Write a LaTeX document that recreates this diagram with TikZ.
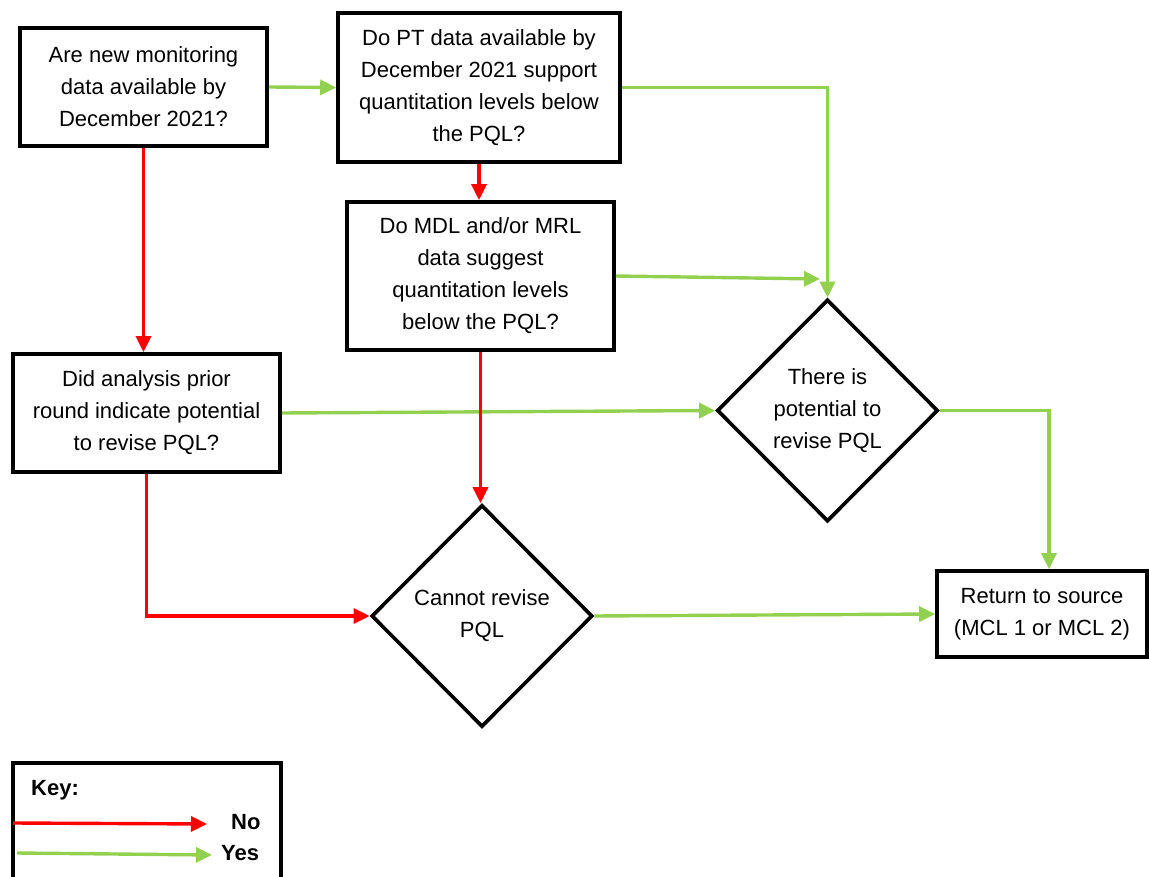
\documentclass[tikz,border=0pt]{standalone}
\usepackage{fontspec}
\setmainfont{Liberation Sans}
\usetikzlibrary{arrows.meta,shapes.geometric,calc}
\definecolor{nored}{RGB}{255,0,0}
\definecolor{yesgreen}{RGB}{146,208,80}
\begin{document}
\begin{tikzpicture}[x=1pt,y=-1pt,
  txt/.style={font=\fontsize{22}{32}\selectfont},
  box/.style={txt, draw=black, line width=3.6pt, align=center, inner sep=0pt},
  dia/.style={txt, diamond, draw=black, line width=3.6pt, align=center, inner sep=0pt,
              minimum width=221pt, minimum height=222pt},
  tip/.style={-{Triangle[length=16pt,width=15pt]}},
  no/.style={draw=nored, line width=3.4pt, tip},
  yes/.style={draw=yesgreen, line width=3.4pt, tip},
  keytxt/.style={font=\fontsize{22}{26}\selectfont\bfseries, inner sep=0pt, anchor=west}]
\fill[white] (0,0) rectangle (1149,877);
\useasboundingbox (0,0) rectangle (1149,877);

\node[box, minimum width=247pt, minimum height=118pt] (a) at (143.5,87) {Are new monitoring\\data available by\\December 2021?};
\node[box, minimum width=282pt, minimum height=149pt] (b) at (479,87.5) {Do PT data available by\\December 2021 support\\quantitation levels below\\the PQL?};
\node[box, minimum width=267pt, minimum height=148pt] (c) at (480.5,276) {Do MDL and/or MRL\\data suggest\\quantitation levels\\below the PQL?};
\node[box, minimum width=267pt, minimum height=118pt] (d) at (146.5,413) {Did analysis prior\\round indicate potential\\to revise PQL?};
\node[dia] (e) at (482,616) {Cannot revise\\PQL};
\node[dia] (f) at (827.5,410.5) {There is\\potential to\\revise PQL};
\node[box, minimum width=210pt, minimum height=86pt] (g) at (1042,614) {Return to source\\(MCL 1 or MCL 2)};

\coordinate (cf) at (820,279);

\draw[yes] (a.east) -- (b.west);
\draw[no] (a.south) -- (a.south |- d.north);
\draw[no] (b.south) -- (b.south |- c.north);
\draw[yes] (b.east) -| (f.north);
\draw[yes] (c.east) -- (cf);
\draw[yes] (d.east) -- (f.west);
\draw[no] (c.south) -- (c.south |- e.north);
\draw[no] (d.south) |- (e.west);
\draw[yes] (e.east) -- (g.west);
\draw[yes] (f.east) -| ($(g.north)+(7,0)$);

% key
\node[draw=black, line width=3.6pt, minimum width=268pt, minimum height=140pt, inner sep=0pt] (key) at (147,833) {};
\node[keytxt] (keylbl) at (31,790) {Key:};
\node[keytxt] (nolbl) at (231,822) {No};
\node[keytxt] (yeslbl) at (221,853) {Yes};
\coordinate (nos) at (13,823);
\coordinate (noe) at (207,824);
\coordinate (yess) at (17,853);
\coordinate (yese) at (212,855);
\draw[no] (nos) -- (noe);
\draw[yes] (yess) -- (yese);
\end{tikzpicture}
\end{document}
